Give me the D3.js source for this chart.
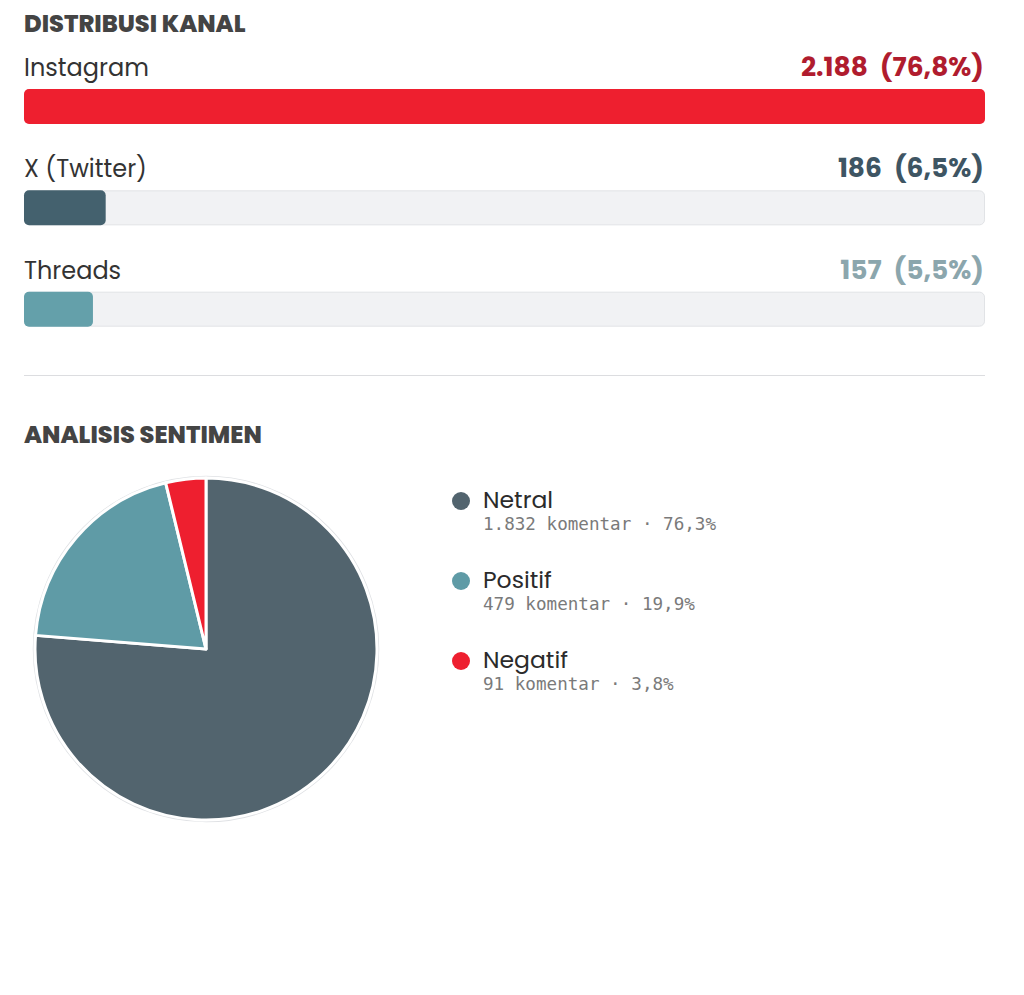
<!DOCTYPE html>
<html>
<head>
<meta charset="utf-8">
<script src="https://cdn.jsdelivr.net/npm/d3@7/dist/d3.min.js"></script>
<style>
  html, body { margin: 0; padding: 0; background: #ffffff; }
  svg { display: block; }
</style>
</head>
<body>
<svg id="chart" width="1024" height="995"></svg>
<script>
// ---- Data ----
const channelNames = ["Instagram", "X (Twitter)", "Threads"];
const channelCounts = [2188, 186, 157];
const channelCountLabels = ["2.188", "186", "157"];
const channelPctLabels = ["(76,8%)", "(6,5%)", "(5,5%)"];

const sentimentNames = ["Netral", "Positif", "Negatif"];
const sentimentCounts = [1832, 479, 91];
const sentimentCountLabels = ["1.832", "479", "91"];
const sentimentPctLabels = ["76,3%", "19,9%", "3,8%"];

// ---- Styles ----
const barColors = ["#ee1f2f", "#44616e", "#64a0aa"];
const valueColors = ["#b01c2e", "#3e5563", "#8ba6ad"];
const pieColors = ["#52646e", "#5f9ba6", "#ee1f2f"];
const sansFont = "'Poppins', 'Open Sans', 'Noto Sans', sans-serif";
const monoFont = "'DejaVu Sans Mono', 'Liberation Mono', monospace";

const svg = d3.select("#chart");
const left = 24, right = 985;

// ---- Section 1: Distribusi Kanal ----
svg.append("text")
  .attr("x", left).attr("y", 32)
  .attr("font-family", sansFont).attr("font-weight", 800)
  .attr("font-size", 24).attr("fill", "#444444")
  .text("DISTRIBUSI KANAL");

const x = d3.scaleLinear().domain([0, d3.max(channelCounts)]).range([0, right - left]);
const rowY = d3.scaleBand().domain(channelNames).range([58, 362]).paddingInner(0);

const rows = svg.append("g").selectAll("g.row")
  .data(channelNames.map((n, i) => ({ name: n, count: channelCounts[i], cl: channelCountLabels[i], pl: channelPctLabels[i], i })))
  .join("g").attr("class", "row")
  .attr("transform", d => `translate(0,${rowY(d.name)})`);

rows.append("text")
  .attr("x", left).attr("y", 18)
  .attr("font-family", sansFont).attr("font-size", 24)
  .attr("fill", "#333333")
  .text(d => d.name);

const vt = rows.append("text")
  .attr("x", right - 1).attr("y", 18)
  .attr("text-anchor", "end")
  .attr("font-family", sansFont).attr("font-weight", 700).attr("font-size", 26.5)
  .attr("fill", d => valueColors[d.i]);
vt.append("tspan").text(d => d.cl);
vt.append("tspan").attr("dx", 12).text(d => d.pl);

rows.append("rect")
  .attr("x", left + 0.5).attr("y", 31.5)
  .attr("width", right - left - 1).attr("height", 34)
  .attr("rx", 5).attr("ry", 5)
  .attr("fill", "#f1f2f4").attr("stroke", "#e1e3e6").attr("stroke-width", 1);

rows.append("rect")
  .attr("x", left).attr("y", 31)
  .attr("width", d => x(d.count)).attr("height", 35)
  .attr("rx", 5).attr("ry", 5)
  .attr("fill", d => barColors[d.i]);

// Divider
svg.append("line")
  .attr("x1", left).attr("x2", right)
  .attr("y1", 375.5).attr("y2", 375.5)
  .attr("stroke", "#dcdde0").attr("stroke-width", 1);

// ---- Section 2: Analisis Sentimen ----
svg.append("text")
  .attr("x", left).attr("y", 443)
  .attr("font-family", sansFont).attr("font-weight", 800)
  .attr("font-size", 24).attr("fill", "#444444")
  .text("ANALISIS SENTIMEN");

const cx = 206, cy = 649, radius = 171;
const pieG = svg.append("g").attr("transform", `translate(${cx},${cy})`);

pieG.append("circle").attr("r", radius + 1)
  .attr("fill", "none").attr("stroke", "#dfe1e4").attr("stroke-width", 2.5);

const pieData = d3.pie().sort(null).value(d => d.count)(
  sentimentNames.map((n, i) => ({ name: n, count: sentimentCounts[i], i }))
);
const arc = d3.arc().innerRadius(0).outerRadius(radius);

pieG.selectAll("path")
  .data(pieData)
  .join("path")
  .attr("d", arc)
  .attr("fill", d => pieColors[d.data.i])
  .attr("stroke", "#ffffff").attr("stroke-width", 3).attr("stroke-linejoin", "round");

// Legend
const legY = d3.scalePoint().domain(sentimentNames).range([500, 660]);
const leg = svg.append("g").selectAll("g.leg")
  .data(sentimentNames.map((n, i) => ({ name: n, i })))
  .join("g").attr("class", "leg")
  .attr("transform", d => `translate(461,${legY(d.name)})`);

leg.append("circle").attr("r", 9).attr("cy", 1)
  .attr("fill", d => pieColors[d.i]);

leg.append("text")
  .attr("x", 22).attr("y", 8)
  .attr("font-family", sansFont).attr("font-size", 23.5)
  .attr("fill", "#2b2b2b")
  .text(d => d.name);

leg.append("text")
  .attr("x", 22).attr("y", 30)
  .attr("font-family", monoFont).attr("font-size", 17.6)
  .attr("fill", "#7a7a7a")
  .text(d => `${sentimentCountLabels[d.i]} komentar \u00b7 ${sentimentPctLabels[d.i]}`);
</script>
</body>
</html>
